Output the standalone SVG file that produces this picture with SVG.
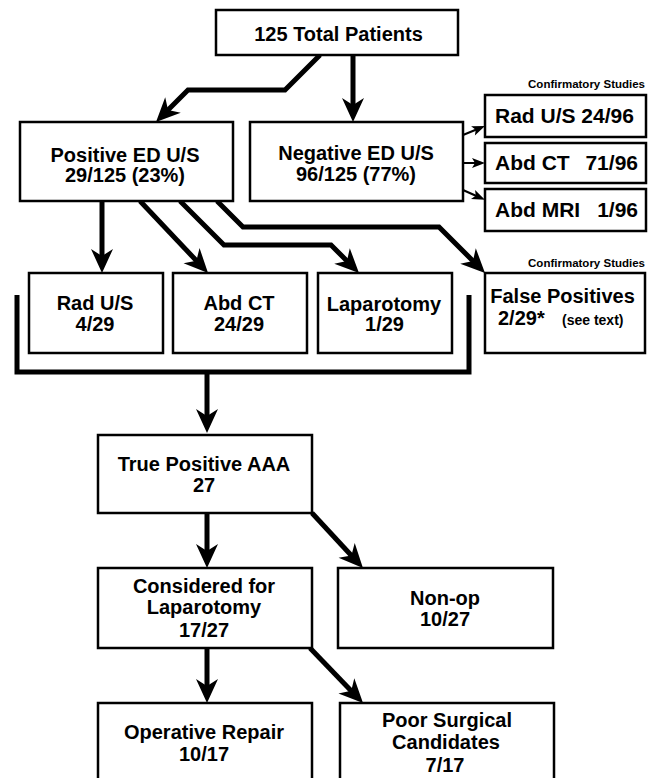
<svg xmlns="http://www.w3.org/2000/svg" width="655" height="778" viewBox="0 0 655 778">
<style>
.box{fill:#fff;stroke:#000;stroke-width:2.5}
.t{font-family:"Liberation Sans",Arial,sans-serif;font-weight:bold;font-size:20px;fill:#000;text-anchor:middle}
.st{text-anchor:start}
.ts{font-family:"Liberation Sans",Arial,sans-serif;font-weight:bold;font-size:11.5px;fill:#000;text-anchor:end}
.tl{font-family:"Liberation Sans",Arial,sans-serif;font-weight:bold;font-size:21px;fill:#000}
.thick{fill:none;stroke:#000;stroke-width:5;stroke-linejoin:miter}
.thin{fill:none;stroke:#000;stroke-width:2}
</style>
<defs>
<marker id="ah" markerUnits="userSpaceOnUse" markerWidth="40" markerHeight="40" orient="auto" refX="0" refY="0" overflow="visible">
<polygon points="12,0 -12,-11 -5,0 -12,11" fill="#000"/>
</marker>
<marker id="ahs" markerUnits="userSpaceOnUse" markerWidth="20" markerHeight="20" orient="auto" refX="0" refY="0" overflow="visible">
<polygon points="8,0 -5,-5 -2,0 -5,5" fill="#000"/>
</marker>
</defs>

<g id="connectors">
<path class="thick" d="M353,55 V110" marker-end="url(#ah)"/>
<path class="thick" d="M320,55 L285,90 L188,90 L164.5,113.5" marker-end="url(#ah)"/>
<path class="thin" d="M463,135 L477.6,129" marker-end="url(#ahs)"/>
<path class="thin" d="M463,163 L477,163" marker-end="url(#ahs)"/>
<path class="thin" d="M463,190 L477.6,196.5" marker-end="url(#ahs)"/>
<path class="thick" d="M102,201 V261" marker-end="url(#ah)"/>
<path class="thick" d="M140,201 L199.8,264.3" marker-end="url(#ah)"/>
<path class="thick" d="M180,201 L224,245 L331,245 L350.5,264.5" marker-end="url(#ah)"/>
<path class="thick" d="M217,201 L243,227 L439,227 L476.5,264.5" marker-end="url(#ah)"/>
<path class="thick" d="M17,295 V372 H469 V295"/>
<path class="thick" d="M207,372 V421" marker-end="url(#ah)"/>
<path class="thick" d="M207,513 V556" marker-end="url(#ah)"/>
<path class="thick" d="M312,513 L354.8,559.2" marker-end="url(#ah)"/>
<path class="thick" d="M207,648 V691" marker-end="url(#ah)"/>
<path class="thick" d="M310,648 L354.7,694.4" marker-end="url(#ah)"/>
</g>

<g id="total">
<rect class="box" x="216" y="10" width="242" height="45"/>
<text class="t" x="338.5" y="41">125 Total Patients</text>
</g>

<g id="positive">
<rect class="box" x="20" y="122" width="213" height="79"/>
<text class="t" x="125" y="162">Positive ED U/S</text>
<text class="t" x="125" y="182">29/125 (23%)</text>
</g>

<g id="negative">
<rect class="box" x="250" y="122" width="213" height="79"/>
<text class="t" x="356" y="160">Negative ED U/S</text>
<text class="t" x="356" y="181">96/125 (77%)</text>
</g>

<text class="ts" x="645" y="88">Confirmatory Studies</text>

<g id="conf-radus">
<rect class="box" x="485" y="95" width="161" height="42"/>
<text class="tl" x="495" y="123">Rad U/S 24/96</text>
</g>
<g id="conf-abdct">
<rect class="box" x="485" y="143" width="161" height="40"/>
<text class="tl" x="495" y="170">Abd CT</text>
<text class="tl" x="638" y="170" text-anchor="end">71/96</text>
</g>
<g id="conf-abdmri">
<rect class="box" x="485" y="189" width="161" height="42"/>
<text class="tl" x="495" y="217">Abd MRI</text>
<text class="tl" x="638" y="217" text-anchor="end">1/96</text>
</g>

<g id="radus">
<rect class="box" x="29" y="273" width="134" height="80"/>
<text class="t" x="95" y="310">Rad U/S</text>
<text class="t" x="95" y="331">4/29</text>
</g>
<g id="abdct">
<rect class="box" x="173" y="273" width="134" height="80"/>
<text class="t" x="239" y="310">Abd CT</text>
<text class="t" x="239" y="331">24/29</text>
</g>
<g id="laparotomy">
<rect class="box" x="318" y="273" width="134" height="80"/>
<text class="t" x="384" y="311">Laparotomy</text>
<text class="t" x="384.5" y="331">1/29</text>
</g>

<text class="ts" x="645" y="267">Confirmatory Studies</text>

<g id="falsepos">
<rect class="box" x="485" y="273" width="160" height="80"/>
<text class="t" x="562.5" y="303">False Positives</text>
<text class="t st" x="498" y="325">2/29*</text>
<text class="t st" x="562" y="325" style="font-size:14px">(see text)</text>
</g>

<g id="truepos">
<rect class="box" x="98" y="435" width="214" height="78"/>
<text class="t" x="204" y="471">True Positive AAA</text>
<text class="t" x="204" y="492">27</text>
</g>

<g id="considered">
<rect class="box" x="98" y="568" width="214" height="80"/>
<text class="t" x="204" y="593">Considered for</text>
<text class="t" x="204" y="614">Laparotomy</text>
<text class="t" x="204" y="637">17/27</text>
</g>

<g id="nonop">
<rect class="box" x="338" y="568" width="215" height="80"/>
<text class="t" x="445" y="605">Non-op</text>
<text class="t" x="445" y="626">10/27</text>
</g>

<g id="operative">
<rect class="box" x="98" y="703" width="214" height="90"/>
<text class="t" x="204" y="739">Operative Repair</text>
<text class="t" x="204" y="761">10/17</text>
</g>

<g id="poor">
<rect class="box" x="340" y="703" width="214" height="90"/>
<text class="t" x="447" y="727">Poor Surgical</text>
<text class="t" x="446" y="749">Candidates</text>
<text class="t" x="445" y="772">7/17</text>
</g>
</svg>
